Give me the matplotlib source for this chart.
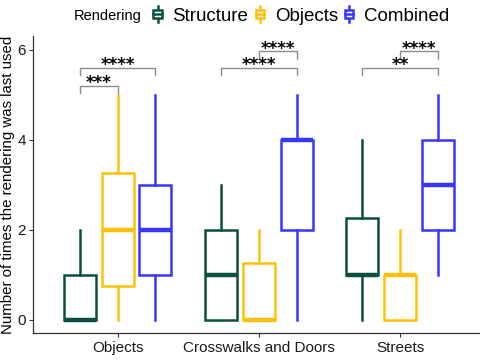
import matplotlib
matplotlib.use("Agg")
import matplotlib.pyplot as plt
from matplotlib.legend_handler import HandlerBase
from matplotlib.lines import Line2D
from matplotlib.patches import Rectangle
from matplotlib.offsetbox import HPacker

plt.rcParams['font.family'] = ['Liberation Sans', 'DejaVu Sans']

# ---------------- data ----------------
groups = ["Objects", "Crosswalks and Doors", "Streets"]
renderings = ["Structure", "Objects", "Combined"]
colors = ["#0b5041", "#ffc107", "#3737ff"]

# per group, per rendering: whisker low, q1, median, q3, whisker high
whislo = [[0, 0, 0], [0, 0, 0], [0, 0, 1]]
q1 = [[0, 0.75, 1], [0, 0, 2], [1, 0, 2]]
med = [[0, 2, 2], [1, 0, 4], [1, 1, 3]]
q3 = [[1, 3.25, 3], [2, 1.25, 4], [2.25, 1, 4]]
whishi = [[2, 5, 5], [3, 2, 5], [4, 2, 5]]

# significance brackets: group, from rendering, to rendering, level, label
sig_group = [0, 0, 1, 1, 2, 2]
sig_from = [0, 0, 0, 1, 0, 1]
sig_to = [1, 2, 2, 2, 2, 2]
sig_level = [5.2, 5.6, 5.6, 5.96, 5.6, 5.96]
sig_label = ["***", "****", "****", "****", "**", "****"]

dodge = 0.8 / 3
box_w = 0.227


class BoxHandler(HandlerBase):
    def create_artists(self, legend, orig_handle, xd, yd, width, height, fontsize, trans):
        c = orig_handle.get_color()
        cx = xd + width / 2
        w = width * 0.55
        rect = Rectangle((cx - w / 2, yd + height * 0.2), w, height * 0.6,
                         facecolor="white", edgecolor=c, lw=1.8, transform=trans)
        ln = Line2D([cx, cx], [yd - height * 0.1, yd + height * 1.1], color=c, lw=1.8, transform=trans)
        md = Line2D([cx - w / 2, cx + w / 2], [yd + height * 0.5] * 2, color=c, lw=1.8, transform=trans)
        return [ln, rect, md]


fig = plt.figure(figsize=(4.8, 3.63), dpi=100)
ax = fig.add_axes([0.069, 0.0826, 0.941, 0.818])

for r in range(3):
    stats = []
    pos = []
    for g in range(3):
        stats.append(dict(whislo=whislo[g][r], q1=q1[g][r], med=med[g][r],
                          q3=q3[g][r], whishi=whishi[g][r], fliers=[]))
        pos.append(g + 1 + (r - 1) * dodge)
    c = colors[r]
    ax.bxp(stats, positions=pos, widths=box_w, showcaps=False, patch_artist=True,
           boxprops=dict(facecolor="white", edgecolor=c, linewidth=1.8),
           whiskerprops=dict(color=c, linewidth=1.8),
           medianprops=dict(color=c, linewidth=3.2, solid_capstyle="butt"),
           manage_ticks=False)

for g, a, b, lev, lab in zip(sig_group, sig_from, sig_to, sig_level, sig_label):
    x1 = g + 1 + (a - 1) * dodge
    x2 = g + 1 + (b - 1) * dodge
    ax.plot([x1, x1, x2, x2], [lev - 0.17, lev, lev, lev - 0.17], color="#8c8c8c", lw=1.0)
    ax.text((x1 + x2) / 2, lev - 0.05, lab, ha="center", va="baseline", fontsize=12,
            color="black", family="DejaVu Sans", fontweight="bold")

ax.set_xlim(0.4, 3.6)
ax.set_ylim(-0.3, 6.3)
ax.set_xticks([1, 2, 3])
ax.set_xticklabels(groups, fontsize=11, color="#1a1a1a")
ax.set_yticks([0, 2, 4, 6])
ax.tick_params(axis="y", labelsize=11, labelcolor="#1a1a1a", length=3, color="#333333", pad=2)
ax.tick_params(axis="x", length=3, color="#333333", pad=3)
ax.set_ylabel("Number of times the rendering was last used", fontsize=10.8, labelpad=2)
for s in ["top", "right"]:
    ax.spines[s].set_visible(False)
for s in ["left", "bottom"]:
    ax.spines[s].set_color("#333333")
    ax.spines[s].set_linewidth(0.9)

handles = [Line2D([], [], color=c) for c in colors]
leg = fig.legend(handles, renderings, loc="center", bbox_to_anchor=(0.545, 0.955), ncol=3,
                 frameon=False, fontsize=13.5, handler_map={Line2D: BoxHandler()},
                 handlelength=0.8, handletextpad=0.4, columnspacing=0.2,
                 title="Rendering")
# put the title on the same line as the entries
title_box = leg._legend_title_box
content = leg._legend_box._children[1]
leg._legend_box._children = [HPacker(children=[title_box, content], align="center", pad=0, sep=6)]
leg.get_title().set_fontsize(10.5)

fig.savefig("out.png", dpi=100)
